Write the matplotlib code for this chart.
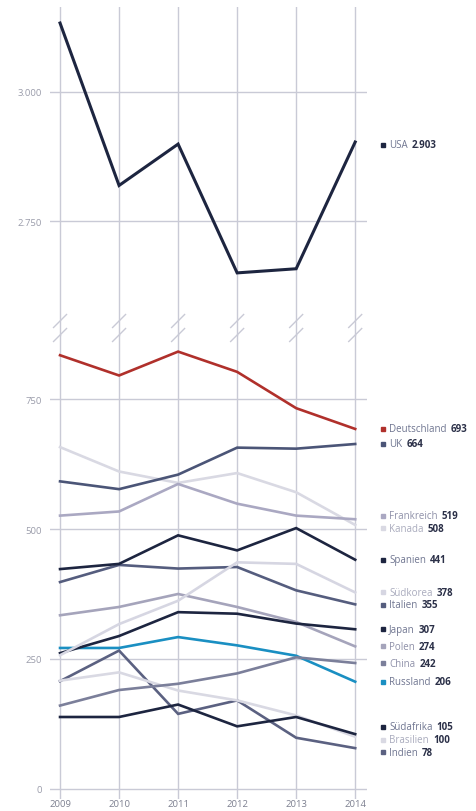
import matplotlib
matplotlib.use("Agg")
import matplotlib.pyplot as plt
from matplotlib.lines import Line2D
from matplotlib.transforms import blended_transform_factory

plt.rcParams['font.family'] = ['Open Sans', 'DejaVu Sans']

years = [2009, 2010, 2011, 2012, 2013, 2014]

usa = [3133, 2819, 2899, 2650, 2658, 2903]
deutschland = [835, 796, 842, 803, 733, 693]
uk = [592, 577, 605, 657, 655, 664]
frankreich = [526, 534, 587, 549, 526, 519]
kanada = [658, 611, 589, 608, 571, 508]
spanien = [423, 433, 488, 459, 502, 441]
suedkorea = [257, 317, 362, 436, 433, 378]
italien = [398, 431, 424, 427, 382, 355]
japan = [261, 294, 340, 337, 318, 307]
polen = [334, 350, 375, 350, 321, 274]
china = [160, 190, 202, 222, 253, 242]
russland = [271, 271, 292, 276, 256, 206]
suedafrika = [138, 138, 162, 120, 138, 105]
brasilien = [208, 224, 189, 170, 141, 100]
indien = [207, 266, 144, 170, 98, 78]

names = ["Deutschland", "UK", "Frankreich", "Kanada", "Spanien", "Südkorea",
         "Italien", "Japan", "Polen", "China", "Russland", "Südafrika",
         "Brasilien", "Indien"]
series = [deutschland, uk, frankreich, kanada, spanien, suedkorea, italien,
          japan, polen, china, russland, suedafrika, brasilien, indien]

NAVY = "#1d2540"
colors = ["#b0302b", "#4b5577", "#aaa8c2", "#d9d9e3", NAVY, "#d6d6e2",
          "#555d7e", NAVY, "#a5a4bb", "#7b7f9a", "#1a8fc2", NAVY,
          "#d9d9e3", "#5b6181"]
name_colors = ["#6f7590", "#6f7590", "#8e90a8", "#a9abbd", "#6f7590", "#a9abbd",
               "#6f7590", "#6f7590", "#8e90a8", "#8e90a8", "#6f7590", "#6f7590",
               "#a9abbd", "#6f7590"]

GRID = "#c9cad6"
TICK = "#9a9caa"
VALUE = "#2b3048"

W, H = 476, 812
fig = plt.figure(figsize=(W / 100, H / 100), dpi=100)
fig.patch.set_facecolor("white")

def px_box(x0, y0, x1, y1):
    return [x0 / W, 1 - y1 / H, (x1 - x0) / W, (y1 - y0) / H]

ax_top = fig.add_axes(px_box(50, 8, 367, 322))
ax_bot = fig.add_axes(px_box(50, 336, 367, 800))

xlim = (2008.83, 2014.2)
ax_top.set_ylim(2557, 3164)
ax_bot.set_ylim(-20, 874)

for ax, ticks, fmt in [(ax_top, [2750, 3000], lambda v: f"{v:,}".replace(",", ".")),
                       (ax_bot, [0, 250, 500, 750], lambda v: str(v))]:
    ax.set_xlim(*xlim)
    for s in ax.spines.values():
        s.set_visible(False)
    ax.set_xticks([])
    ax.set_yticks(ticks)
    ax.set_yticklabels([fmt(t) for t in ticks])
    ax.tick_params(axis="y", length=0, pad=6, labelsize=6.8, labelcolor=TICK)
    for t in ticks:
        ax.axhline(t, color=GRID, lw=1.0, zorder=1)
    for yr in years:
        ax.axvline(yr, color=GRID, lw=1.0, zorder=1)
    ax.set_facecolor("none")

# year labels under the lower panel
for yr in years:
    ax_bot.text(yr, -20, str(yr), ha="center", va="top", fontsize=6.8,
                color="#7d8090", transform=ax_bot.transData, clip_on=False)

# broken axis marks on every year line
tr = blended_transform_factory(ax_bot.transData, fig.transFigure)
for yr in years:
    for yc in (322, 336):
        fy0 = 1 - (yc + 6.5) / H
        fy1 = 1 - (yc - 6.5) / H
        dx = 6.5 / 317 * (xlim[1] - xlim[0])
        fig.add_artist(Line2D([yr - dx, yr + dx], [fy0, fy1], transform=tr,
                              color=GRID, lw=1.0))
    fig.add_artist(Line2D([yr, yr], [1 - 336 / H, 1 - 322 / H], transform=tr,
                          color=GRID, lw=1.0))

# lines
ax_top.plot(years, usa, color=NAVY, lw=2.2, zorder=3, solid_joinstyle="miter")
for vals, c in zip(series[::-1], colors[::-1]):
    ax_bot.plot(years, vals, color=c, lw=1.9, zorder=3, solid_joinstyle="miter")

# end labels, spread apart where they would overlap
def spread(values, gap):
    order = sorted(range(len(values)), key=lambda i: -values[i])
    pos = {i: float(values[i]) for i in order}
    groups = [[i] for i in order]
    changed = True
    while changed:
        changed = False
        for k in range(len(groups) - 1):
            a, b = groups[k], groups[k + 1]
            if pos[a[-1]] - pos[b[0]] < gap - 1e-9:
                merged = a + b
                center = sum(values[i] for i in merged) / len(merged)
                top = center + gap * (len(merged) - 1) / 2
                for j, i in enumerate(merged):
                    pos[i] = top - j * gap
                groups[k:k + 2] = [merged]
                changed = True
                break
    return pos

last = [v[-1] for v in series]
label_y = spread(last, 24.5)

def end_label(ax, y, name, value, mcol, ncol):
    ax.plot([2014.47], [y], marker="s", ms=2.6, color=mcol, clip_on=False,
            zorder=4)
    t = ax.annotate(name, (2014.47, y), xytext=(4.5, 0), textcoords="offset points",
                    ha="left", va="center", fontsize=7, color=ncol,
                    annotation_clip=False)
    fig.canvas.draw()
    bb = t.get_window_extent()
    ax.annotate(value, (bb.x1, bb.y0 + bb.height / 2), xycoords="figure pixels",
                xytext=(3, 0), textcoords="offset points", ha="left", va="center",
                fontsize=7, fontweight="bold", color=VALUE, annotation_clip=False)

end_label(ax_top, usa[-1] - 5, "USA", f"{usa[-1]:,}".replace(",", "."), NAVY, "#6f7590")
for i, name in enumerate(names):
    end_label(ax_bot, label_y[i], name, str(last[i]), colors[i], name_colors[i])

fig.savefig("out.png", dpi=100)
